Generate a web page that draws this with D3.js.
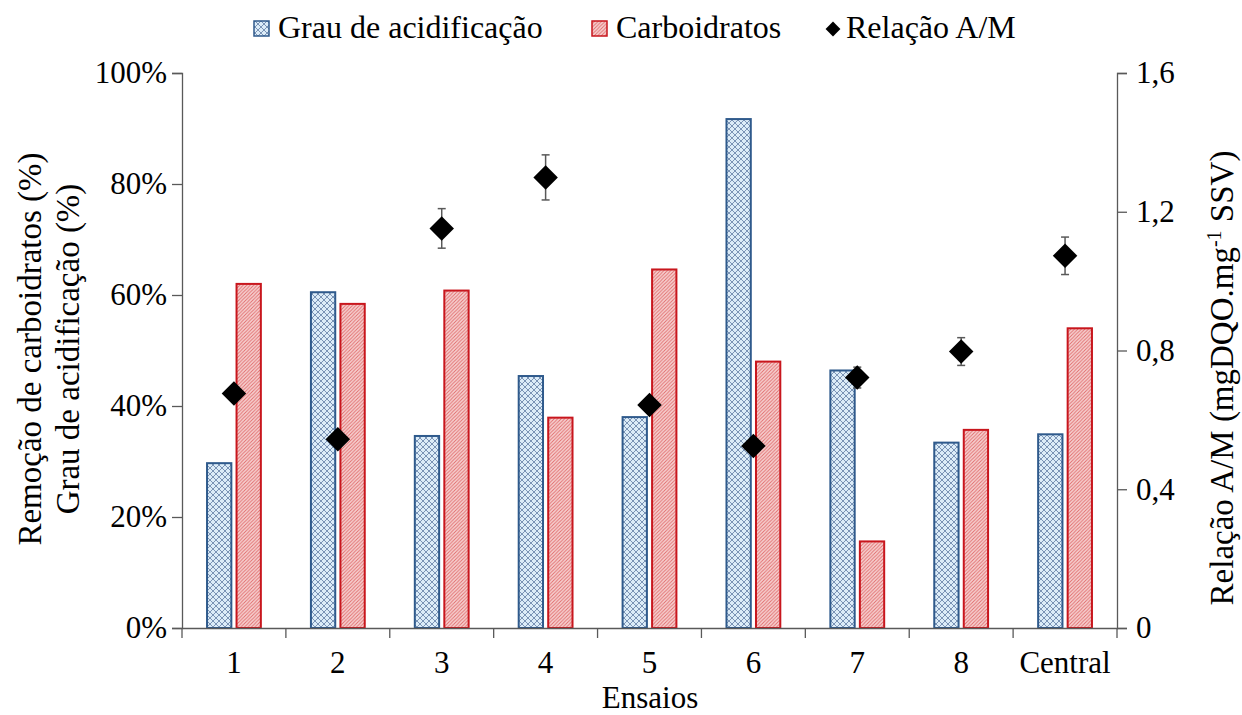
<!DOCTYPE html>
<html>
<head>
<meta charset="utf-8">
<script src="https://cdn.jsdelivr.net/npm/d3@7"></script>
<style>
  html, body { margin: 0; padding: 0; background: #fff; }
  svg text, svg tspan { font-family: "Liberation Serif" !important; }
</style>
</head>
<body>
<svg id="chart" width="1242" height="715" font-family="Liberation Serif"></svg>
<script>
// Ensaios (runs)
const categories = ["1", "2", "3", "4", "5", "6", "7", "8", "Central"];
// Grau de acidificação (%)
const acidificacao = [29.7, 60.5, 34.6, 45.4, 38.0, 91.7, 46.4, 33.4, 34.9];
// Remoção de carboidratos (%)
const carboidratos = [62.0, 58.4, 60.8, 37.9, 64.6, 48.0, 15.6, 35.7, 54.0];
// Relação A/M (mgDQO.mg-1 SSV) and its standard deviation
const relacaoAM = [0.676, 0.544, 1.152, 1.299, 0.643, 0.525, 0.722, 0.797, 1.073];
const relacaoErr = [0.02, 0.02, 0.057, 0.065, 0.02, 0.02, 0.03, 0.04, 0.054];
const leftTicks = [0, 20, 40, 60, 80, 100];
const rightTicks = [0, 0.4, 0.8, 1.2, 1.6];

const FONT = "Liberation Serif";
const svg = d3.select("#chart");
const m = { left: 182, right: 1117, top: 73, bottom: 628 };
const axisColor = "#595959";
const fontSize = 31;
const titleSize = 33;

const x = d3.scaleBand().domain(categories).range([m.left, m.right]);
const yL = d3.scaleLinear().domain([0, 100]).range([m.bottom, m.top]);
const yR = d3.scaleLinear().domain([0, 1.6]).range([m.bottom, m.top]);

// fill patterns
const defs = svg.append("defs");
const cross = defs.append("pattern").attr("id", "cross")
  .attr("patternUnits", "userSpaceOnUse").attr("width", 6).attr("height", 6);
cross.append("rect").attr("width", 6).attr("height", 6).attr("fill", "#dcecf8");
cross.append("path").attr("d", "M0,0L6,6M6,0L0,6M-1,5L1,7M5,-1L7,1M-1,1L1,-1M5,7L7,5")
  .attr("stroke", "#7a93b5").attr("stroke-width", 1);

const hatch = defs.append("pattern").attr("id", "hatch")
  .attr("patternUnits", "userSpaceOnUse").attr("width", 3.5).attr("height", 3.5);
hatch.append("rect").attr("width", 3.5).attr("height", 3.5).attr("fill", "#f7d3d3");
hatch.append("path").attr("d", "M-1,1L1,-1M0,3.5L3.5,0M2.5,4.5L4.5,2.5")
  .attr("stroke", "#e06a6a").attr("stroke-width", 0.9);

const bw = x.bandwidth();
const barW = bw * 0.234;
const gap = bw * 0.05;

// bars
const g = svg.append("g");
g.selectAll("rect.acid").data(categories).join("rect")
  .attr("class", "acid")
  .attr("x", d => x(d) + bw / 2 - gap / 2 - barW)
  .attr("width", barW)
  .attr("y", (d, i) => yL(acidificacao[i]))
  .attr("height", (d, i) => yL(0) - yL(acidificacao[i]))
  .attr("fill", "url(#cross)").attr("stroke", "#2f5a8c").attr("stroke-width", 2);

g.selectAll("rect.carb").data(categories).join("rect")
  .attr("class", "carb")
  .attr("x", d => x(d) + bw / 2 + gap / 2)
  .attr("width", barW)
  .attr("y", (d, i) => yL(carboidratos[i]))
  .attr("height", (d, i) => yL(0) - yL(carboidratos[i]))
  .attr("fill", "url(#hatch)").attr("stroke", "#c8161d").attr("stroke-width", 2);

// axes
const leftAxis = svg.append("g").attr("transform", `translate(${m.left},0)`)
  .call(d3.axisLeft(yL).tickValues(leftTicks).tickSize(10).tickPadding(5).tickFormat(d => d + "%"));
const rightAxis = svg.append("g").attr("transform", `translate(${m.right},0)`)
  .call(d3.axisRight(yR).tickValues(rightTicks).tickSize(10).tickPadding(9)
    .tickFormat(d => d === 0 ? "0" : d3.format(".1f")(d).replace(".", ",")));
const bottomAxis = svg.append("g").attr("transform", `translate(0,${m.bottom})`)
  .call(d3.axisBottom(x).tickSize(0).tickPadding(23));
// category boundary ticks
svg.append("g").selectAll("line").data(d3.range(categories.length + 1)).join("line")
  .attr("x1", i => m.left + i * x.step()).attr("x2", i => m.left + i * x.step())
  .attr("y1", m.bottom).attr("y2", m.bottom + 10)
  .attr("stroke", axisColor).attr("stroke-width", 1.3);

[leftAxis, rightAxis, bottomAxis].forEach(a => {
  a.attr("font-size", fontSize).attr("font-family", FONT);
  a.selectAll("path.domain").attr("stroke", axisColor).attr("stroke-width", 1.3);
  a.selectAll(".tick line").attr("stroke", axisColor).attr("stroke-width", 1.3);
  a.selectAll("text").attr("fill", "#000");
});
bottomAxis.selectAll("text").attr("dy", "0.71em");

// error bars and diamonds
const pts = svg.append("g");
categories.forEach((c, i) => {
  const cx = x(c) + bw / 2;
  const top = yR(relacaoAM[i] + relacaoErr[i]);
  const bot = yR(relacaoAM[i] - relacaoErr[i]);
  pts.append("line").attr("x1", cx).attr("x2", cx).attr("y1", top).attr("y2", bot)
    .attr("stroke", axisColor).attr("stroke-width", 1.5);
  [top, bot].forEach(yy => pts.append("line")
    .attr("x1", cx - 4).attr("x2", cx + 4).attr("y1", yy).attr("y2", yy)
    .attr("stroke", axisColor).attr("stroke-width", 1.5));
});
pts.selectAll("path.pt").data(categories).join("path")
  .attr("class", "pt")
  .attr("d", d3.symbol(d3.symbolSquare, 300))
  .attr("transform", (d, i) => `translate(${x(d) + bw / 2},${yR(relacaoAM[i])}) rotate(45)`)
  .attr("fill", "#000");

// axis titles
svg.append("text").attr("x", 650).attr("y", 708)
  .attr("text-anchor", "middle").attr("font-size", fontSize).text("Ensaios");
svg.append("text").attr("transform", "translate(41,349) rotate(-90)")
  .attr("text-anchor", "middle").attr("font-size", titleSize).text("Remoção de carboidratos (%)");
svg.append("text").attr("transform", "translate(79,349) rotate(-90)")
  .attr("text-anchor", "middle").attr("font-size", titleSize).text("Grau de acidificação (%)");
const rt = svg.append("text").attr("transform", "translate(1233,378) rotate(-90)")
  .attr("text-anchor", "middle").attr("font-size", titleSize);
rt.append("tspan").text("Relação A/M (mgDQO.mg");
rt.append("tspan").attr("font-size", 20).attr("dy", -12).text("-1");
rt.append("tspan").attr("dy", 12).text(" SSV)");

// legend
const lg = svg.append("g");
lg.append("rect").attr("x", 254).attr("y", 21).attr("width", 15).attr("height", 15)
  .attr("fill", "url(#cross)").attr("stroke", "#2f5a8c").attr("stroke-width", 1.5);
lg.append("text").attr("x", 278).attr("y", 38).attr("font-size", 32).text("Grau de acidificação");
lg.append("rect").attr("x", 592).attr("y", 21).attr("width", 15).attr("height", 15)
  .attr("fill", "url(#hatch)").attr("stroke", "#c8161d").attr("stroke-width", 1.5);
lg.append("text").attr("x", 616).attr("y", 38).attr("font-size", 32).text("Carboidratos");
lg.append("path").attr("d", d3.symbol(d3.symbolSquare, 110))
  .attr("transform", "translate(833,29) rotate(45)").attr("fill", "#000");
lg.append("text").attr("x", 846).attr("y", 38).attr("font-size", 32).text("Relação A/M");

// serif typeface for every label
svg.selectAll("text").attr("font-family", FONT).style("font-family", FONT);
</script>
</body>
</html>
